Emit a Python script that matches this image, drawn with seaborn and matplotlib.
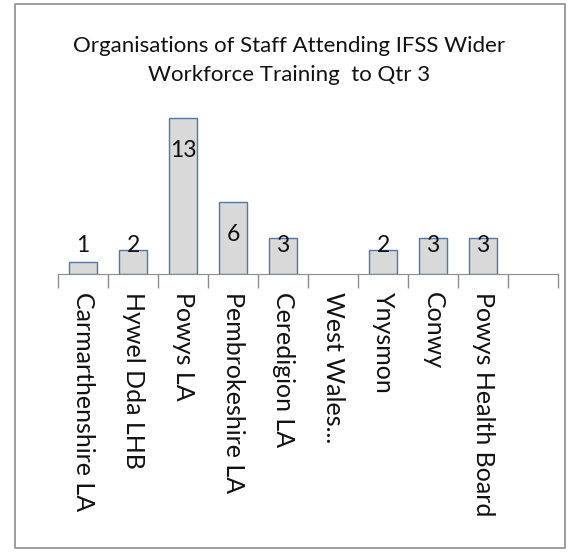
import numpy as np
import pandas as pd
import seaborn as sns
import matplotlib.pyplot as plt
from matplotlib.patches import Rectangle

organisations = ["Carmarthenshire LA", "Hywel Dda LHB", "Powys LA", "Pembrokeshire LA",
                 "Ceredigion LA", "West Wales...", "Ynysmon", "Conwy", "Powys Health Board", " "]
staff = [1, 2, 13, 6, 3, 0, 2, 3, 3, np.nan]
labels = ["1", "2", "13", "6", "3", "", "2", "3", "3", ""]

df = pd.DataFrame({"org": organisations, "staff": staff})

sns.set_style("white")
plt.rcParams["font.family"] = ["Lato", "DejaVu Sans"]

fig = plt.figure(figsize=(5.79, 5.52), dpi=100)
ax = fig.add_axes([0.1002, 0.5036, 0.8636, 0.3043])

sns.barplot(data=df, x="org", y="staff", order=organisations, color="#d9d9d9",
            edgecolor="#4f76ad", linewidth=1.0, width=0.57, saturation=1, ax=ax)
for p in ax.patches:
    p.set_facecolor("#d9d9d9")
    if not p.get_height() > 0:
        p.set_edgecolor("none")

# value labels, kept clear of the baseline for the short bars
for i, (v, t) in enumerate(zip(staff, labels)):
    if t:
        ax.text(i, max(v - 2.7, 2.4), t, ha="center", va="center", fontsize=16.5, color="#111111")

ax.set_xlim(-0.5, len(organisations) - 0.5)
ax.set_ylim(0, 14)
ax.set_yticks([])
ax.set_xlabel("")
ax.set_ylabel("")
for s in ["left", "right", "top"]:
    ax.spines[s].set_visible(False)
ax.spines["bottom"].set_color("#8c8c8c")
ax.set_xticks(np.arange(len(organisations) + 1) - 0.5)
ax.set_xticklabels([])
ax.tick_params(axis="x", which="major", bottom=True, length=10, color="#8c8c8c", width=1,
               direction="out")
for i, name in enumerate(organisations):
    ax.text(i, -1.5, name, rotation=270, ha="center", va="top", fontsize=18,
            color="#111111", transform=ax.transData, clip_on=False)

fig.text(0.5, 0.89, "Organisations of Staff Attending IFSS Wider\nWorkforce Training  to Qtr 3",
         ha="center", va="center", fontsize=16, linespacing=1.55, color="#111111")

fig.patches.append(Rectangle((15 / 579, 4 / 552), 550 / 579, 544 / 552, transform=fig.transFigure,
                             fill=False, edgecolor="#8c8c8c", linewidth=1.2))

fig.savefig("out.png", dpi=100)
